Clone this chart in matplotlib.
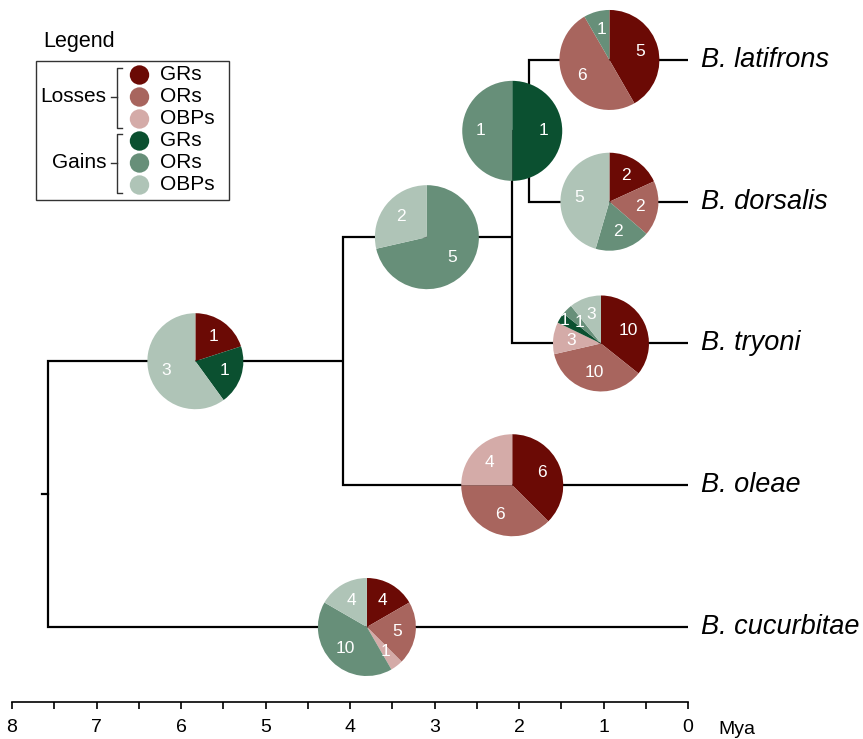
import numpy as np
import matplotlib.pyplot as plt
from matplotlib.patches import Wedge, Circle, Rectangle
from matplotlib.transforms import Affine2D, ScaledTranslation

plt.rcParams['font.family'] = ['Liberation Sans', 'DejaVu Sans']

# tips, top to bottom
species = ['B. latifrons', 'B. dorsalis', 'B. tryoni', 'B. oleae', 'B. cucurbitae']
tip_y = [4, 3, 2, 1, 0]

# node ages (Mya)
age_root = 7.57
age_a = 4.08   # tryoni/dorsalis/latifrons + oleae
age_b = 2.08   # dorsalis/latifrons + tryoni
age_c = 1.88   # latifrons + dorsalis

# pie slices: losses GR, OR, OBP then gains GR, OR, OBP
slice_names = ['GRs', 'ORs', 'OBPs', 'GRs', 'ORs', 'OBPs']
colors = ['#6b0a05', '#a8655e', '#d4aba8', '#0b5030', '#678f79', '#afc4b7']

pie_counts = [
    [1, 0, 0, 1, 0, 3],     # root -> A
    [0, 0, 0, 0, 5, 2],     # A -> B
    [0, 0, 0, 1, 1, 0],     # B -> C
    [5, 6, 0, 0, 1, 0],     # latifrons
    [2, 2, 0, 0, 2, 5],     # dorsalis
    [10, 10, 3, 1, 1, 3],   # tryoni
    [6, 6, 4, 0, 0, 0],     # oleae
    [4, 5, 1, 0, 10, 4],    # cucurbitae
]
pie_age = [5.83, 3.09, 2.08, 0.93, 0.93, 1.03, 2.08, 3.80]

# y of the internal nodes (midpoints of children)
y_c = (tip_y[0] + tip_y[1]) / 2
y_b = (y_c + tip_y[2]) / 2
y_a = (y_b + tip_y[3]) / 2
y_root = (y_a + tip_y[4]) / 2
pie_y = [y_a, y_b, y_c, tip_y[0], tip_y[1], tip_y[2], tip_y[3], tip_y[4]]
pie_r = [48, 52, 50, 50, 49, 48, 51, 49]   # pixels

# labels pushed outward so tiny slices don't collide
label_push = {(5, 3): 0.9}

fig = plt.figure(figsize=(8.63, 7.39), dpi=100)
ax = fig.add_axes([12 / 863, 37 / 739, 676 / 863, 702 / 739])
ax.set_xlim(8, 0)
ax.set_ylim(-0.529, 4.423)
ax.patch.set_alpha(0)

# tree: (parent age, parent y, child age, child y)
edges = [
    (age_root, y_root, age_a, y_a),
    (age_root, y_root, 0, tip_y[4]),
    (age_a, y_a, age_b, y_b),
    (age_a, y_a, 0, tip_y[3]),
    (age_b, y_b, age_c, y_c),
    (age_b, y_b, 0, tip_y[2]),
    (age_c, y_c, 0, tip_y[0]),
    (age_c, y_c, 0, tip_y[1]),
]
for pa, py, ca, cy in edges:
    ax.plot([pa, pa, ca], [py, cy, cy], color='black', lw=1.6, zorder=1,
            solid_joinstyle='miter', solid_capstyle='butt')
ax.plot([age_root + 0.08, age_root], [y_root, y_root], color='black', lw=1.6, zorder=1)

for name, y in zip(species, tip_y):
    ax.annotate(name, xy=(0, y), xytext=(13, 0), textcoords='offset pixels',
                fontsize=19.5, style='italic', va='center', ha='left',
                annotation_clip=False)

# pies
for i, (counts, t, y, r) in enumerate(zip(pie_counts, pie_age, pie_y, pie_r)):
    trans = Affine2D().scale(r) + ScaledTranslation(t, y, ax.transData)
    total = sum(counts)
    start = 0
    for j, (v, c) in enumerate(zip(counts, colors)):
        if v == 0:
            continue
        end = start + v / total
        th1 = 90 - 360 * end
        th2 = 90 - 360 * start
        ax.add_patch(Wedge((0, 0), 1, th1, th2, transform=trans,
                           facecolor=c, edgecolor='none', zorder=3))
        mid = np.deg2rad((th1 + th2) / 2)
        k = label_push.get((i, j), 0.63)
        ax.annotate(str(v), xy=(t, y),
                    xytext=(k * r * np.cos(mid), k * r * np.sin(mid)),
                    textcoords='offset pixels', color='white', fontsize=12.5,
                    ha='center', va='center', zorder=4)
        start = end

# time axis
for s in ['top', 'right', 'left']:
    ax.spines[s].set_visible(False)
ax.spines['bottom'].set_linewidth(1.2)
ax.set_yticks([])
ax.set_xticks(np.arange(0, 9))
ax.set_xticks(np.arange(0.5, 8, 1), minor=True)
ax.tick_params(axis='x', which='both', direction='out', length=5, width=1.2)
ax.tick_params(axis='x', which='major', labelsize=14, pad=7)

# overlay in pixel coords for legend and axis unit
ov = fig.add_axes([0, 0, 1, 1])
ov.set_xlim(0, 863)
ov.set_ylim(739, 0)
ov.axis('off')

ov.text(718, 729, 'Mya', fontsize=14, va='center', ha='left')

ov.text(43, 42, 'Legend', fontsize=15.5, va='center', ha='left')
ov.add_patch(Rectangle((36, 61), 193, 139, facecolor='white', edgecolor='#333333', lw=1))
row_y = 75 + 22 * np.arange(6)
for yy, name, c in zip(row_y, slice_names, colors):
    ov.add_patch(Circle((139.5, yy), 9.7, facecolor=c, edgecolor='none'))
    ov.text(160, yy, name, fontsize=15, va='center', ha='left')

for label, y0, y1, ym in [('Losses', 68, 128, 97), ('Gains', 134, 193, 163)]:
    ov.plot([122, 117, 117, 122], [y0, y0, y1, y1], color='#333333', lw=1)
    ov.plot([111, 117], [ym, ym], color='#333333', lw=1)
    ov.text(106, ym, label, fontsize=15, va='center', ha='right')

fig.savefig('out.png', dpi=100)
